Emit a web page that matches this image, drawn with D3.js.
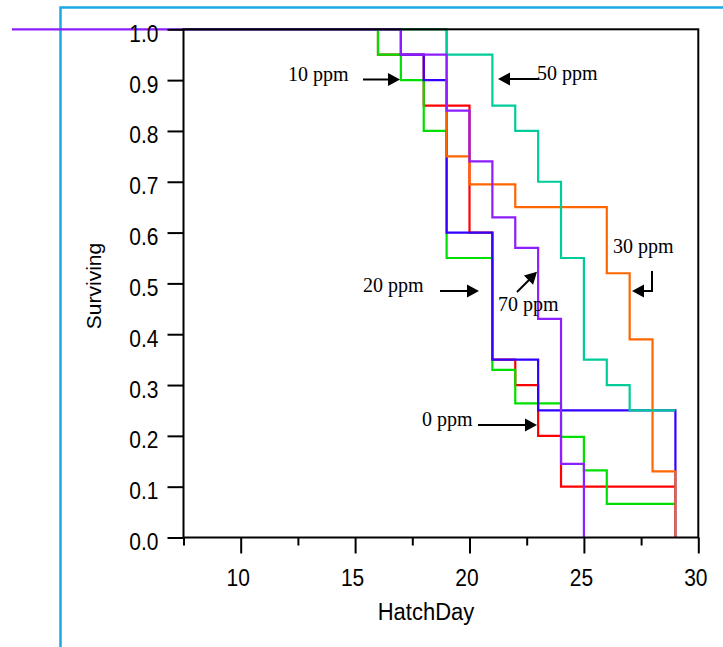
<!DOCTYPE html>
<html>
<head>
<meta charset="utf-8">
<script src="https://cdn.jsdelivr.net/npm/d3@7"></script>
<style>
  html, body { margin: 0; padding: 0; background: #fff; }
  svg { display: block; }
</style>
</head>
<body>
<svg id="chart" width="723" height="647"></svg>
<script>
// ---- data ----
const seriesNames = ["0 ppm", "10 ppm", "20 ppm", "30 ppm", "50 ppm", "70 ppm"];
const days0  = [7.5, 16, 18, 20, 21, 22, 23, 24, 29];
const surv0  = [1, 0.95, 0.85, 0.6, 0.35, 0.3, 0.2, 0.1, 0.1];
const days10 = [7.5, 16, 17, 18, 19, 21, 22, 24, 25, 26, 29];
const surv10 = [1, 0.95, 0.9, 0.8, 0.55, 0.33, 0.264, 0.198, 0.132, 0.066, 0.066];
const days20 = [7.5, 17, 18, 19, 21, 23, 29];
const surv20 = [1, 0.95, 0.9, 0.6, 0.35, 0.25, 0];
const days30 = [7.5, 19, 20, 22, 26, 27, 28, 29];
const surv30 = [1, 0.75, 0.695, 0.65, 0.52, 0.39, 0.13, 0];
const days50 = [7.5, 19, 21, 22, 23, 24, 25, 26, 27, 29];
const surv50 = [1, 0.95, 0.85, 0.8, 0.7, 0.55, 0.35, 0.3, 0.25, 0.25];
const days70 = [0, 17, 19, 20, 21, 22, 23, 24, 25];
const surv70 = [1, 0.95, 0.84, 0.74, 0.63, 0.57, 0.43, 0.145, 0];
const colors = ["#ff0000", "#00e000", "#3300ff", "#ff6600", "#00cc99", "#8c1eff"];

const xTicksMajor = [10, 15, 20, 25, 30];
const xTicksMinor = [7.5, 12.5, 17.5, 22.5, 27.5];
const yTicks = [0, 0.1, 0.2, 0.3, 0.4, 0.5, 0.6, 0.7, 0.8, 0.9, 1.0];

// annotation label texts (positions set in drawing code)
const annLabels = ["10 ppm", "50 ppm", "30 ppm", "20 ppm", "70 ppm", "0 ppm"];

// ---- drawing ----
const svg = d3.select("#chart");
const x = d3.scaleLinear().domain([7.5, 30]).range([183.5, 698.3]);
const y = d3.scaleLinear().domain([0, 1]).range([537.5, 29.3]);
const sans = "Liberation Sans, Arial, sans-serif";

// outer light-blue frame
svg.append("rect").attr("x", 60.5).attr("y", 7.5).attr("width", 800).attr("height", 800)
  .attr("fill", "none").attr("stroke", "#1ba8e6").attr("stroke-width", 2.5);

const allDays = [days0, days10, days20, days30, days50, days70];
const allSurv = [surv0, surv10, surv20, surv30, surv50, surv70];

const line = d3.line().x(d => x(d[0])).y(d => y(d[1])).curve(d3.curveStepAfter);
allDays.forEach((ds, i) => {
  const pts = ds.map((d, j) => [d, allSurv[i][j]]);
  svg.append("path").attr("d", line(pts)).attr("fill", "none")
    .attr("stroke", colors[i]).attr("stroke-width", 2.2);
});

// plot frame
svg.append("rect").attr("x", x(7.5)).attr("y", y(1)).attr("width", x(30) - x(7.5)).attr("height", y(0) - y(1))
  .attr("fill", "none").attr("stroke", "#000").attr("stroke-width", 2);

// x axis ticks
const xAxis = d3.axisBottom(x).tickValues(xTicksMajor).tickSize(16).tickSizeOuter(0).tickFormat(d3.format("d"));
const gx = svg.append("g").attr("transform", `translate(0,${y(0)})`).call(xAxis);
gx.select(".domain").remove();
gx.selectAll(".tick line").attr("stroke", "#000").attr("stroke-width", 2);
gx.selectAll(".tick text").attr("font-family", sans)
  .attr("font-size", 21).attr("fill", "#000").attr("dy", null).attr("y", null).attr("x", null)
  .attr("transform", "translate(-3,48) scale(1,1.15)");
const xAxisMinor = d3.axisBottom(x).tickValues(xTicksMinor).tickSize(8).tickFormat("");
const gxm = svg.append("g").attr("transform", `translate(0,${y(0)})`).call(xAxisMinor);
gxm.select(".domain").remove();
gxm.selectAll(".tick line").attr("stroke", "#000").attr("stroke-width", 2);

// y axis
const yAxis = d3.axisLeft(y).tickValues(yTicks).tickSize(16).tickFormat(d3.format(".1f"));
const gy = svg.append("g").attr("transform", `translate(${x(7.5)},0)`).call(yAxis);
gy.select(".domain").remove();
gy.selectAll(".tick line").attr("stroke", "#000").attr("stroke-width", 2);
gy.selectAll(".tick text").attr("font-family", sans)
  .attr("font-size", 21).attr("fill", "#000").attr("x", null).attr("dy", null)
  .attr("transform", "translate(-25,12) scale(1,1.15)");

// axis titles
svg.append("text").attr("transform", "translate(426,619.5) scale(1,1.12)").attr("text-anchor", "middle")
  .attr("font-family", sans).attr("font-size", 22).text("HatchDay");
svg.append("text").attr("transform", "translate(101,286) rotate(-90)").attr("text-anchor", "middle")
  .attr("font-family", sans).attr("font-size", 21).text("Surviving");

// annotations
const serif = "Liberation Serif, Times New Roman, serif";
function label(t, tx, ty) {
  svg.append("text").attr("x", tx).attr("y", ty).attr("font-family", serif).attr("font-size", 20).text(t);
}
function arrowHead(tipX, tipY, angleDeg) {
  const L = 12, W = 6.5;
  const a = angleDeg * Math.PI / 180;
  const bx = tipX - L * Math.cos(a), by = tipY - L * Math.sin(a);
  const px = -Math.sin(a) * W, py = Math.cos(a) * W;
  svg.append("path").attr("d", `M${tipX},${tipY}L${bx + px},${by + py}L${bx - px},${by - py}Z`).attr("fill", "#000");
}
function shaft(pts) {
  svg.append("path").attr("d", d3.line()(pts)).attr("fill", "none").attr("stroke", "#000").attr("stroke-width", 2);
}
// 10 ppm
label(annLabels[0], 288, 81);
shaft([[363, 79.5], [392, 79.5]]); arrowHead(400, 79.5, 0);
// 50 ppm
label(annLabels[1], 537, 80);
shaft([[539, 79], [506, 79]]); arrowHead(498, 79, 180);
// 30 ppm
label(annLabels[2], 613, 253);
shaft([[652, 271], [652, 291], [640, 291]]); arrowHead(632, 291, 180);
// 20 ppm
label(annLabels[3], 363, 292);
shaft([[440, 291], [471, 291]]); arrowHead(479, 291, 0);
// 70 ppm
label(annLabels[4], 498, 311);
shaft([[517, 292], [531, 278]]); arrowHead(537, 271.7, -45);
// 0 ppm
label(annLabels[5], 422, 426);
shaft([[478, 425], [529, 425]]); arrowHead(537, 425, 0);
</script>
</body>
</html>
